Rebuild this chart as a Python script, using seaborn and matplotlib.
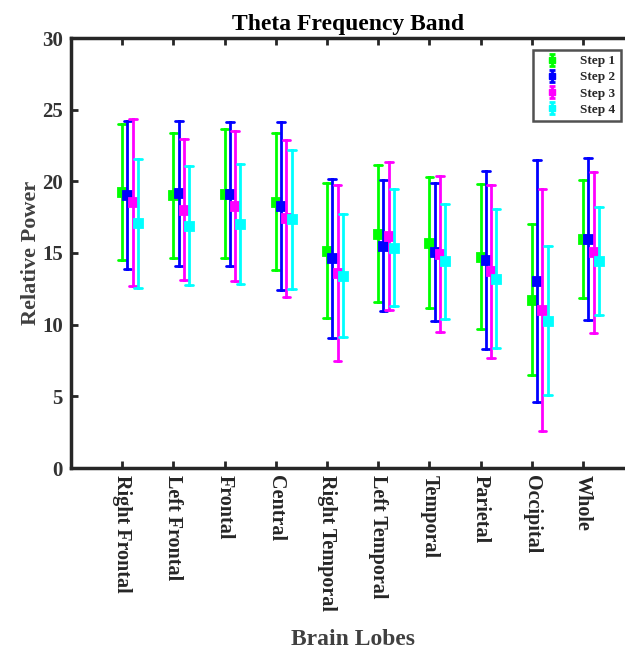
import numpy as np
import pandas as pd
import matplotlib
matplotlib.use("Agg")
import matplotlib.pyplot as plt
from matplotlib.lines import Line2D
from matplotlib.path import Path
import seaborn as sns

lobes = ["Right Frontal", "Left Frontal", "Frontal", "Central", "Right Temporal",
         "Left Temporal", "Temporal", "Parietal", "Occipital", "Whole"]
steps = ["Step 1", "Step 2", "Step 3", "Step 4"]

mean_step1 = [19.28, 19.02, 19.14, 18.58, 15.17, 16.34, 15.73, 14.73, 11.75, 15.99]
sd_step1 = [4.75, 4.37, 4.49, 4.79, 4.69, 4.77, 4.54, 5.05, 5.25, 4.12]
mean_step2 = [19.05, 19.16, 19.09, 18.30, 14.62, 15.52, 15.06, 14.48, 13.03, 15.99]
sd_step2 = [5.15, 5.07, 5.02, 5.85, 5.53, 4.60, 4.80, 6.21, 8.46, 5.63]
mean_step3 = [18.55, 18.02, 18.30, 17.41, 13.61, 16.20, 14.90, 13.71, 11.03, 15.06]
sd_step3 = [5.83, 4.92, 5.24, 5.47, 6.12, 5.15, 5.44, 6.06, 8.45, 5.61]
mean_step4 = [17.06, 16.90, 17.00, 17.34, 13.43, 15.38, 14.41, 13.22, 10.28, 14.45]
sd_step4 = [4.47, 4.16, 4.18, 4.88, 4.26, 4.06, 4.00, 4.86, 5.18, 3.76]

colors = ["#00ff00", "#0000ff", "#ff00ff", "#00ffff"]

means = [mean_step1, mean_step2, mean_step3, mean_step4]
sds = [sd_step1, sd_step2, sd_step3, sd_step4]

# long table: for every (lobe, step) the mean and its +/- sd bounds
rows = []
for s, m_list, s_list in zip(steps, means, sds):
    for lobe, m, sd in zip(lobes, m_list, s_list):
        for v in (m - sd, m, m + sd):
            rows.append({"lobe": lobe, "step": s, "value": v})
df = pd.DataFrame(rows)

sns.set_theme(style="ticks")
plt.rcParams["font.family"] = ["Liberation Serif", "DejaVu Serif"]
plt.rcParams["font.weight"] = "bold"

fig = plt.figure(figsize=(6.25, 6.55), dpi=100)
ax = fig.add_axes([71 / 625, (655 - 468) / 655, 554 / 625, 430 / 655])

sns.pointplot(data=df, x="lobe", y="value", hue="step", order=lobes, hue_order=steps,
              palette=colors, estimator="median",
              errorbar=lambda v: (v.min(), v.max()),
              dodge=0.31, linestyle="none", marker="s", markersize=5.5,
              capsize=0.15, err_kws={"linewidth": 2.0}, ax=ax, legend=False)

first_offset = -0.31 / 2
ax.set_xticks(np.arange(len(lobes)) + first_offset)
ax.set_xticklabels(lobes, rotation=-90, fontsize=14.5, fontweight="bold", color="#262626")
ax.set_xlim(first_offset - 1.0, first_offset + 9.82)
ax.set_ylim(0, 30)
ax.set_yticks(np.arange(0, 31, 5))
for t in ax.get_yticklabels():
    t.set_fontsize(15)
    t.set_fontweight("bold")
    t.set_color("#333333")

for side in ["left", "bottom", "top"]:
    ax.spines[side].set_visible(True)
    ax.spines[side].set_linewidth(2.5)
    ax.spines[side].set_color("#262626")
ax.spines["right"].set_visible(False)
ax.tick_params(axis="both", direction="in", length=5, width=2, color="#262626")
ax.tick_params(axis="x", top=True, pad=5)
ax.tick_params(axis="y", pad=6)

ax.set_xlabel("Brain Lobes", fontsize=17, fontweight="bold", color="#404040")
ax.xaxis.set_label_coords(0.509, -0.375)
ax.set_ylabel("Relative Power", fontsize=16, fontweight="bold", color="#404040", labelpad=0.5)
ax.set_title("Theta Frequency Band", fontsize=17, fontweight="bold", color="black", pad=6)

ibeam = Path([(-0.5, 1), (0.5, 1), (0, 1), (0, -1), (-0.5, -1), (0.5, -1)],
             [Path.MOVETO, Path.LINETO, Path.MOVETO, Path.LINETO, Path.MOVETO, Path.LINETO])
handles = []
for c in colors:
    bar = Line2D([], [], linestyle="none", marker=ibeam, markersize=9,
                 markeredgewidth=2.0, markeredgecolor=c, markerfacecolor="none")
    sq = Line2D([], [], linestyle="none", marker="s", markersize=5, color=c)
    handles.append((bar, sq))
leg = ax.legend(handles, steps, loc="upper right", bbox_to_anchor=(0.992, 0.973),
                borderaxespad=0, frameon=True, fancybox=False,
                prop={"weight": "bold", "size": 9.5}, labelspacing=0.3,
                handlelength=2.2, handletextpad=1.0, borderpad=0.4)
leg.get_frame().set_edgecolor("#262626")
leg.get_frame().set_linewidth(1.8)

fig.savefig("out.png", dpi=100)
